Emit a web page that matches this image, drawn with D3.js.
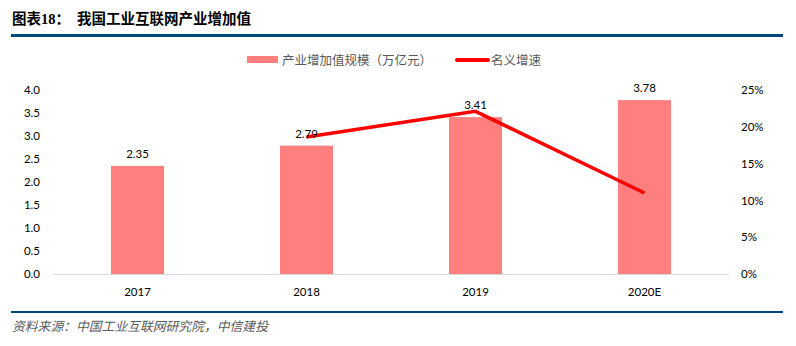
<!DOCTYPE html>
<html><head><meta charset="utf-8">
<script src="https://cdn.jsdelivr.net/npm/d3@7"></script>
<style>body{margin:0;background:#fff}svg{display:block}</style>
</head><body>
<svg id="c" width="796" height="346"></svg>
<script>
const categories = ["2017", "2018", "2019", "2020E"];
const scaleValues = [2.35, 2.79, 3.41, 3.78];
const growthCats = ["2018", "2019", "2020E"];
const growthValues = [18.6, 22.1, 11.0];
const leftTicks = [0, 0.5, 1.0, 1.5, 2.0, 2.5, 3.0, 3.5, 4.0];
const rightTicks = [0, 5, 10, 15, 20, 25];
const seriesNames = ["产业增加值规模（万亿元）", "名义增速"];
const title = "我国工业互联网产业增加值";
const source = "资料来源：中国工业互联网研究院，中信建投";

const svg = d3.select("#c");
const font = "Lato, 'Noto Sans CJK SC', sans-serif";
const plotTop = 90, plotBottom = 274, plotLeft = 53, plotRight = 729;

const x = d3.scaleBand().domain(categories).range([plotLeft, plotRight]).paddingInner(0.686).paddingOuter(0.343);
const y = d3.scaleLinear().domain([0, 4]).range([plotBottom, plotTop]);
const y2 = d3.scaleLinear().domain([0, 25]).range([plotBottom, plotTop]);

// header
svg.append("text").attr("x", 12).attr("y", 24)
  .attr("font-family", "'Noto Sans CJK SC', sans-serif").attr("font-weight", "bold").attr("font-size", 14.5).attr("fill", "#000")
  .call(t => {
    t.append("tspan").text("图表");
    t.append("tspan").attr("font-family", "'Liberation Serif', serif").text("18");
    t.append("tspan").text("：");
    t.append("tspan").attr("x", 77).text(title);
  });
svg.append("rect").attr("x", 11).attr("y", 34).attr("width", 772).attr("height", 3).attr("fill", "#004a80");
svg.append("rect").attr("x", 11).attr("y", 311).attr("width", 772).attr("height", 2).attr("fill", "#004a80");
svg.append("text").attr("x", 12).attr("y", 331)
  .attr("font-family", "'Noto Sans CJK SC', sans-serif").attr("font-style", "italic").attr("font-size", 12.8).attr("fill", "#595959")
  .text(source);

// legend
svg.append("rect").attr("x", 247).attr("y", 56).attr("width", 31).attr("height", 7).attr("fill", "#ff7f7f");
svg.append("text").attr("x", 282).attr("y", 64.5).attr("font-family", "'Noto Sans CJK SC', sans-serif").attr("font-size", 12.5).attr("fill", "#595959").text(seriesNames[0]);
svg.append("line").attr("x1", 457).attr("x2", 488).attr("y1", 60).attr("y2", 60).attr("stroke", "#ff0000").attr("stroke-width", 4).attr("stroke-linecap", "round");
svg.append("text").attr("x", 491).attr("y", 64.5).attr("font-family", "'Noto Sans CJK SC', sans-serif").attr("font-size", 12.5).attr("fill", "#595959").text(seriesNames[1]);

// bars
svg.append("g").selectAll("rect").data(categories).join("rect")
  .attr("x", d => x(d)).attr("width", x.bandwidth())
  .attr("y", (d, i) => y(scaleValues[i])).attr("height", (d, i) => plotBottom - y(scaleValues[i]))
  .attr("fill", "#ff7f7f");

// baseline
svg.append("line").attr("x1", plotLeft).attr("x2", plotRight).attr("y1", plotBottom + 0.5).attr("y2", plotBottom + 0.5).attr("stroke", "#d9d9d9").attr("stroke-width", 1);

// axes
const gl = svg.append("g").attr("transform", `translate(${plotLeft - 13},0)`)
  .call(d3.axisLeft(y).tickValues(leftTicks).tickFormat(d3.format(".1f")).tickSize(0).tickPadding(0));
const gr = svg.append("g").attr("transform", `translate(${plotRight + 12},0)`)
  .call(d3.axisRight(y2).tickValues(rightTicks).tickFormat(d => d + "%").tickSize(0).tickPadding(0));
const gx = svg.append("g").attr("transform", `translate(0,${plotBottom + 8})`)
  .call(d3.axisBottom(x).tickSize(0).tickPadding(6));
[gl, gr, gx].forEach(g => {
  g.select(".domain").remove();
  g.selectAll("text").attr("font-family", font).attr("font-size", 11.5).attr("fill", "#000");
});

// line
const line = d3.line().x((d, i) => x(growthCats[i]) + x.bandwidth() / 2).y(d => y2(d));
svg.append("path").datum(growthValues).attr("d", line)
  .attr("fill", "none").attr("stroke", "#ff0000").attr("stroke-width", 3.5).attr("stroke-linejoin", "miter");

// value labels
svg.append("g").selectAll("text").data(categories).join("text")
  .attr("x", d => x(d) + x.bandwidth() / 2)
  .attr("y", (d, i) => y(scaleValues[i]) - 8)
  .attr("text-anchor", "middle").attr("font-family", font).attr("font-size", 11.5).attr("fill", "#000")
  .text((d, i) => scaleValues[i].toFixed(2));
</script>
</body></html>
